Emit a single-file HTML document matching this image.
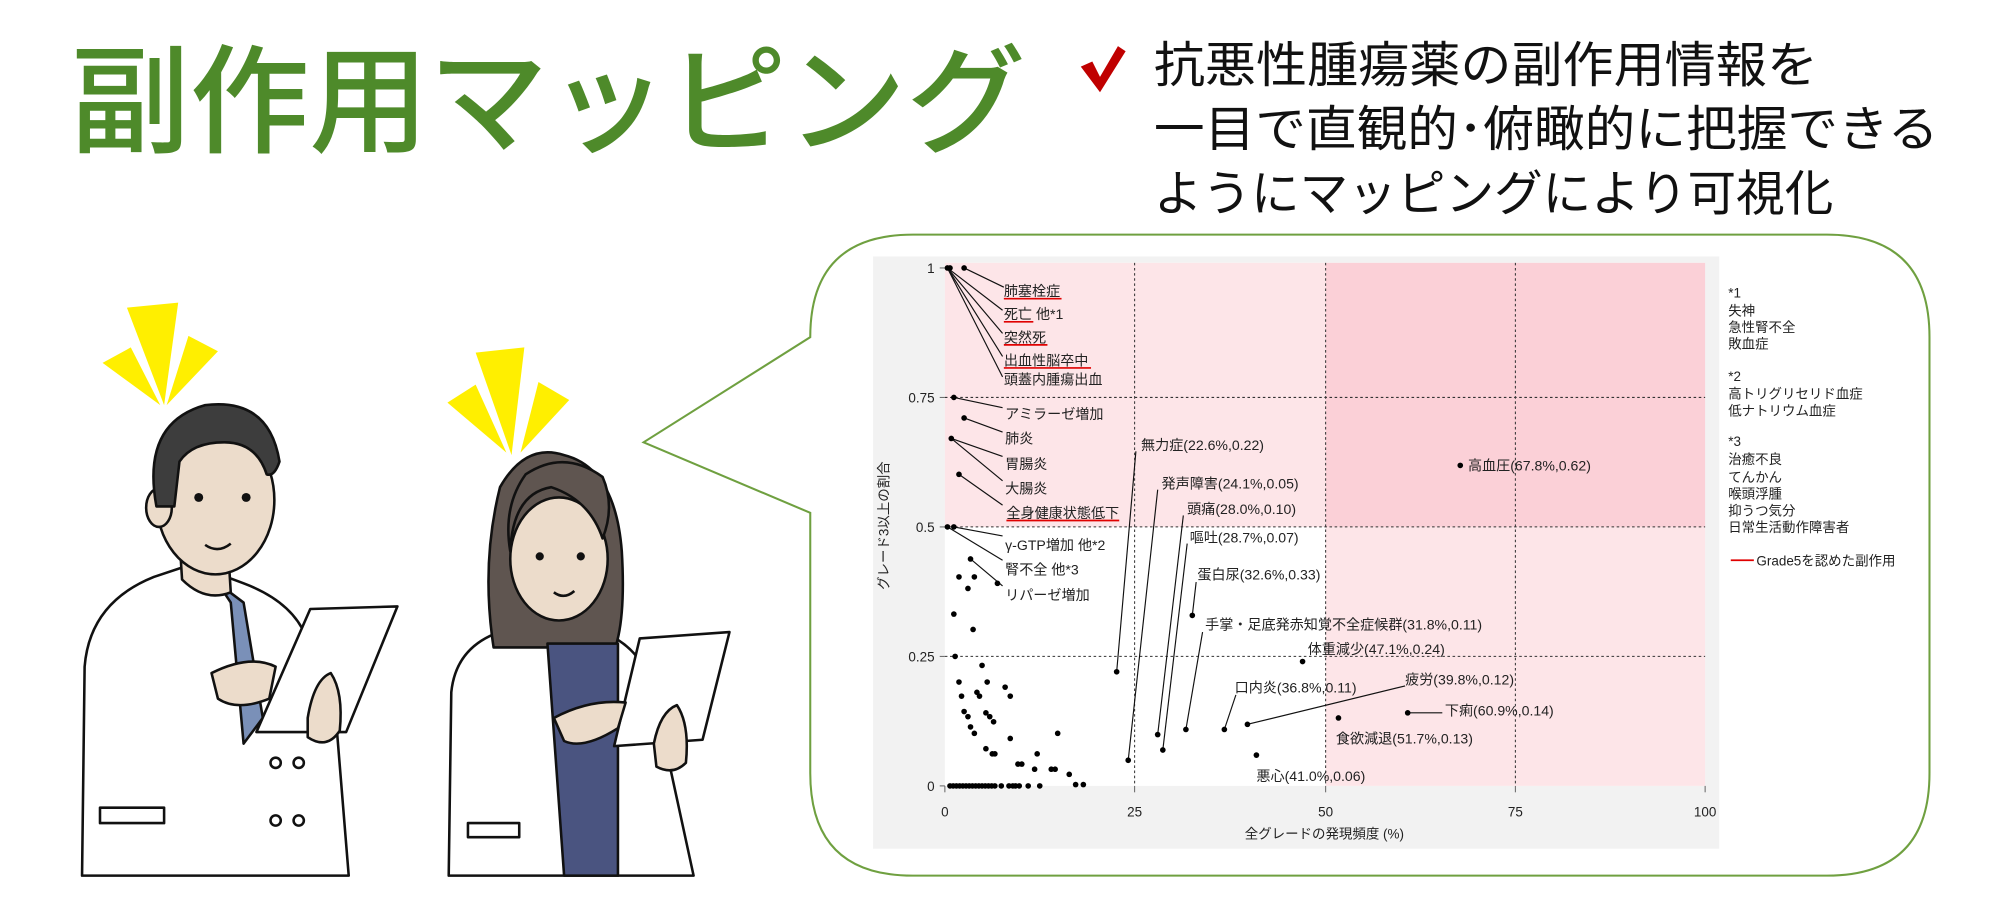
<!DOCTYPE html>
<html><head><meta charset="utf-8"><style>
html,body{margin:0;padding:0;background:#fff;}
svg{display:block;}
text{font-family:"Liberation Sans","Noto Sans CJK JP",sans-serif;}
.s{font-size:10.5px;fill:#222;}
.t{font-size:11px;fill:#222;}
</style></head><body>
<svg width="2000" height="900" viewBox="0 0 1560 702" preserveAspectRatio="none" xmlns="http://www.w3.org/2000/svg">
<rect width="1560" height="702" fill="#fff"/>
<!-- Title -->
<text x="55" y="112" font-size="92" font-weight="500" fill="#4e8a2a" textLength="745" lengthAdjust="spacingAndGlyphs">副作用マッピング</text>
<path d="M843 52 L852 48 L858 60 L872 36 L878 40 L858 72 Z" fill="#c00000"/>
<text x="900" y="64" font-size="38" fill="#111" textLength="518" lengthAdjust="spacingAndGlyphs">抗悪性腫瘍薬の副作用情報を</text>
<text x="900" y="114" font-size="38" fill="#111" textLength="612" lengthAdjust="spacingAndGlyphs">一目で直観的･俯瞰的に把握できる</text>
<text x="900" y="164" font-size="38" fill="#111" textLength="530" lengthAdjust="spacingAndGlyphs">ようにマッピングにより可視化</text>

<!-- Bubble -->
<path d="M712 183 L1425 183 Q1505 183 1505 263 L1505 603 Q1505 683 1425 683 L712 683 Q632 683 632 603 L632 400 L502 345 L632 263 Q632 183 712 183 Z" fill="#fff" stroke="#6fa040" stroke-width="1.6"/>

<!-- chart bg -->
<rect x="681" y="200" width="660" height="462" fill="#f2f2f2"/>
<rect x="737" y="205" width="593" height="408" fill="#fff"/>
<rect x="737" y="205" width="297" height="206" fill="#fde5e8"/>
<rect x="1034" y="205" width="296" height="206" fill="#fbd0d7"/>
<rect x="1034" y="411" width="296" height="202" fill="#fde5e8"/>
<g stroke="#333" stroke-width="0.8" stroke-dasharray="2,2" fill="none">
<line x1="885" y1="205" x2="885" y2="613"/><line x1="1034" y1="205" x2="1034" y2="613"/><line x1="1182" y1="205" x2="1182" y2="613"/>
<line x1="737" y1="310" x2="1330" y2="310"/><line x1="737" y1="411" x2="1330" y2="411"/><line x1="737" y1="512" x2="1330" y2="512"/>
</g>
<g stroke="#666" stroke-width="0.8">
<line x1="733" y1="209" x2="737" y2="209"/><line x1="733" y1="310" x2="737" y2="310"/><line x1="733" y1="411" x2="737" y2="411"/><line x1="733" y1="512" x2="737" y2="512"/><line x1="733" y1="613" x2="737" y2="613"/>
<line x1="737" y1="613" x2="737" y2="618"/><line x1="885" y1="613" x2="885" y2="618"/><line x1="1034" y1="613" x2="1034" y2="618"/><line x1="1182" y1="613" x2="1182" y2="618"/><line x1="1330" y1="613" x2="1330" y2="618"/>
</g>
<g class="s" text-anchor="end">
<text x="729" y="213" class="s">1</text><text x="729" y="314" class="s">0.75</text><text x="729" y="415" class="s">0.5</text><text x="729" y="516" class="s">0.25</text><text x="729" y="617" class="s">0</text>
</g>
<g text-anchor="middle">
<text x="737" y="637" class="s">0</text><text x="885" y="637" class="s">25</text><text x="1034" y="637" class="s">50</text><text x="1182" y="637" class="s">75</text><text x="1330" y="637" class="s">100</text>
<text x="1033" y="654" class="s">全グレードの発現頻度 (%)</text>
<text x="0" y="0" class="s" transform="translate(693,410) rotate(-90)">グレード3以上の割合</text>
</g>

<!-- leader lines -->
<g stroke="#111" stroke-width="0.9" fill="none">
<line x1="752" y1="209" x2="783" y2="224"/>
<line x1="739" y1="209" x2="782" y2="242"/>
<line x1="739" y1="209" x2="782" y2="260"/>
<line x1="739" y1="209" x2="782" y2="278"/>
<line x1="739" y1="209" x2="782" y2="294"/>
<line x1="744" y1="310" x2="782" y2="318"/>
<line x1="752" y1="326" x2="782" y2="337"/>
<line x1="742" y1="342" x2="782" y2="356"/>
<line x1="742" y1="342" x2="782" y2="375"/>
<line x1="748" y1="370" x2="782" y2="394"/>
<line x1="744" y1="411" x2="782" y2="418"/>
<line x1="739" y1="411" x2="782" y2="437"/>
<line x1="757" y1="436" x2="782" y2="457"/>
<line x1="871" y1="524" x2="886" y2="352"/>
<line x1="880" y1="593" x2="903" y2="382"/>
<line x1="903" y1="573" x2="923" y2="402"/>
<line x1="907" y1="585" x2="926" y2="424"/>
<line x1="930" y1="480" x2="933" y2="454"/>
<line x1="925" y1="569" x2="938" y2="493"/>
<line x1="955" y1="569" x2="964" y2="542"/>
<line x1="973" y1="565" x2="1096" y2="535"/>
<line x1="1098" y1="556" x2="1125" y2="556"/>
</g>
<!-- red underlines -->
<g stroke="#e00000" stroke-width="1.3">
<line x1="783" y1="233" x2="828" y2="233"/>
<line x1="783" y1="251" x2="806" y2="251"/>
<line x1="783" y1="269" x2="817" y2="269"/>
<line x1="783" y1="287" x2="851" y2="287"/>
<line x1="785" y1="406" x2="873" y2="406"/>
<line x1="1350" y1="437" x2="1368" y2="437"/>
</g>
<!-- labels -->
<g class="t">
<text x="783" y="231" class="t">肺塞栓症</text>
<text x="783" y="249" class="t">死亡 他*1</text>
<text x="783" y="267" class="t">突然死</text>
<text x="783" y="285" class="t">出血性脳卒中</text>
<text x="783" y="300" class="t">頭蓋内腫瘍出血</text>
<text x="784" y="327" class="t">アミラーゼ増加</text>
<text x="784" y="346" class="t">肺炎</text>
<text x="784" y="366" class="t">胃腸炎</text>
<text x="784" y="385" class="t">大腸炎</text>
<text x="785" y="404" class="t">全身健康状態低下</text>
<text x="784" y="429" class="t">γ-GTP増加 他*2</text>
<text x="784" y="448" class="t">腎不全 他*3</text>
<text x="784" y="468" class="t">リパーゼ増加</text>
<text x="890" y="351" class="t">無力症(22.6%,0.22)</text>
<text x="906" y="381" class="t">発声障害(24.1%,0.05)</text>
<text x="926" y="401" class="t">頭痛(28.0%,0.10)</text>
<text x="928" y="423" class="t">嘔吐(28.7%,0.07)</text>
<text x="934" y="452" class="t">蛋白尿(32.6%,0.33)</text>
<text x="940" y="491" class="t">手掌・足底発赤知覚不全症候群(31.8%,0.11)</text>
<text x="1020" y="510" class="t">体重減少(47.1%,0.24)</text>
<text x="963" y="540" class="t">口内炎(36.8%,0.11)</text>
<text x="1096" y="534" class="t">疲労(39.8%,0.12)</text>
<text x="1127" y="558" class="t">下痢(60.9%,0.14)</text>
<text x="1042" y="580" class="t">食欲減退(51.7%,0.13)</text>
<text x="980" y="609" class="t">悪心(41.0%,0.06)</text>
<text x="1145" y="367" class="t">高血圧(67.8%,0.62)</text>
</g>
<!-- legend -->
<g class="s">
<text x="1348" y="232" class="s">*1</text><text x="1348" y="246" class="s">失神</text><text x="1348" y="259" class="s">急性腎不全</text><text x="1348" y="272" class="s">敗血症</text>
<text x="1348" y="297" class="s">*2</text><text x="1348" y="311" class="s">高トリグリセリド血症</text><text x="1348" y="324" class="s">低ナトリウム血症</text>
<text x="1348" y="348" class="s">*3</text><text x="1348" y="362" class="s">治癒不良</text><text x="1348" y="376" class="s">てんかん</text><text x="1348" y="389" class="s">喉頭浮腫</text><text x="1348" y="402" class="s">抑うつ気分</text><text x="1348" y="415" class="s">日常生活動作障害者</text>
<text x="1370" y="441" class="s">Grade5を認めた副作用</text>
</g>
<!-- dots -->
<g fill="#000">
<circle cx="739" cy="209" r="2.2"/><circle cx="741" cy="209" r="2.2"/><circle cx="752" cy="209" r="2.2"/>
<circle cx="744" cy="310" r="2.2"/><circle cx="752" cy="326" r="2.2"/><circle cx="742" cy="342" r="2.2"/><circle cx="748" cy="370" r="2.2"/>
<circle cx="739" cy="411" r="2.2"/><circle cx="744" cy="411" r="2.2"/><circle cx="757" cy="436" r="2.2"/>
<circle cx="871" cy="524" r="2.2"/><circle cx="880" cy="593" r="2.2"/><circle cx="903" cy="573" r="2.2"/><circle cx="907" cy="585" r="2.2"/>
<circle cx="930" cy="480" r="2.2"/><circle cx="925" cy="569" r="2.2"/><circle cx="1016" cy="516" r="2.2"/><circle cx="955" cy="569" r="2.2"/>
<circle cx="973" cy="565" r="2.2"/><circle cx="1098" cy="556" r="2.2"/><circle cx="1044" cy="560" r="2.2"/><circle cx="980" cy="589" r="2.2"/><circle cx="1139" cy="363" r="2.2"/>
<circle cx="748" cy="450" r="2.2"/><circle cx="755" cy="459" r="2.2"/><circle cx="760" cy="450" r="2.2"/><circle cx="778" cy="455" r="2.2"/>
<circle cx="744" cy="479" r="2.2"/><circle cx="759" cy="491" r="2.2"/><circle cx="745" cy="512" r="2.2"/><circle cx="766" cy="519" r="2.2"/>
<circle cx="748" cy="532" r="2.2"/><circle cx="770" cy="532" r="2.2"/><circle cx="750" cy="543" r="2.2"/><circle cx="762" cy="540" r="2.2"/>
<circle cx="764" cy="543" r="2.2"/><circle cx="784" cy="536" r="2.2"/><circle cx="788" cy="543" r="2.2"/><circle cx="752" cy="555" r="2.2"/>
<circle cx="755" cy="559" r="2.2"/><circle cx="769" cy="556" r="2.2"/><circle cx="772" cy="559" r="2.2"/><circle cx="757" cy="567" r="2.2"/>
<circle cx="760" cy="572" r="2.2"/><circle cx="775" cy="563" r="2.2"/><circle cx="769" cy="584" r="2.2"/><circle cx="774" cy="588" r="2.2"/>
<circle cx="776" cy="588" r="2.2"/><circle cx="788" cy="576" r="2.2"/><circle cx="825" cy="572" r="2.2"/><circle cx="794" cy="596" r="2.2"/>
<circle cx="797" cy="596" r="2.2"/><circle cx="809" cy="588" r="2.2"/><circle cx="807" cy="600" r="2.2"/><circle cx="820" cy="600" r="2.2"/>
<circle cx="823" cy="600" r="2.2"/><circle cx="834" cy="604" r="2.2"/><circle cx="839" cy="612" r="2.2"/><circle cx="845" cy="612" r="2.2"/>
<circle cx="741" cy="613" r="2.2"/><circle cx="743.5" cy="613" r="2.2"/><circle cx="746" cy="613" r="2.2"/><circle cx="748.5" cy="613" r="2.2"/>
<circle cx="751" cy="613" r="2.2"/><circle cx="753.5" cy="613" r="2.2"/><circle cx="756" cy="613" r="2.2"/><circle cx="758.5" cy="613" r="2.2"/>
<circle cx="761" cy="613" r="2.2"/><circle cx="763.5" cy="613" r="2.2"/><circle cx="766" cy="613" r="2.2"/><circle cx="768.5" cy="613" r="2.2"/>
<circle cx="771" cy="613" r="2.2"/><circle cx="773.5" cy="613" r="2.2"/><circle cx="776" cy="613" r="2.2"/><circle cx="781" cy="613" r="2.2"/>
<circle cx="787" cy="613" r="2.2"/><circle cx="790" cy="613" r="2.2"/><circle cx="792" cy="613" r="2.2"/><circle cx="795" cy="613" r="2.2"/>
<circle cx="802" cy="613" r="2.2"/><circle cx="811" cy="613" r="2.2"/>
</g>

<!-- Man -->
<g stroke="#111" stroke-width="2" stroke-linejoin="round">
<polygon points="99,240 139,236 128,316" fill="#ffef00" stroke="none"/>
<polygon points="80,283 102,271 125,316" fill="#ffef00" stroke="none"/>
<polygon points="147,262 170,274 130,316" fill="#ffef00" stroke="none"/>
<path d="M64 683 L66 520 Q70 470 120 450 L150 440 L190 455 Q230 470 240 500 L262 560 L272 683 Z" fill="#fff"/>
<path d="M170 455 L190 470 L205 560 L190 580 L180 470 Z" fill="#7a90b8"/>
<path d="M140 420 L142 452 Q160 470 180 462 L178 430 Z" fill="#ecdccb"/>
<ellipse cx="168" cy="390" rx="46" ry="58" fill="#ecdccb"/>
<ellipse cx="124" cy="396" rx="10" ry="15" fill="#ecdccb"/>
<path d="M122 395 Q110 330 160 316 Q210 310 218 360 Q214 372 208 370 Q200 345 175 345 Q150 345 140 360 L136 395 Z" fill="#3d3d3d"/>
<circle cx="155" cy="388" r="3.5" fill="#111" stroke="none"/><circle cx="192" cy="388" r="3.5" fill="#111" stroke="none"/>
<path d="M160 425 Q170 432 180 424" fill="none"/>
<polygon points="242,475 310,473 270,571 200,571" fill="#fff"/>
<path d="M165 525 Q195 510 215 520 L210 545 Q185 555 170 545 Z" fill="#ecdccb"/>
<path d="M240 560 Q245 530 258 525 Q268 540 265 570 Q255 585 240 575 Z" fill="#ecdccb"/>
<rect x="78" y="630" width="50" height="12" fill="#fff"/>
<circle cx="215" cy="595" r="4" fill="#fff"/><circle cx="233" cy="595" r="4" fill="#fff"/><circle cx="215" cy="640" r="4" fill="#fff"/><circle cx="233" cy="640" r="4" fill="#fff"/>
</g>
<!-- Woman -->
<g stroke="#111" stroke-width="2" stroke-linejoin="round">
<polygon points="371,275 409,271 399,355" fill="#ffef00" stroke="none"/>
<polygon points="349,314 371,300 395,353" fill="#ffef00" stroke="none"/>
<polygon points="420,298 444,312 406,353" fill="#ffef00" stroke="none"/>
<path d="M350 683 L352 540 Q356 500 400 490 L460 490 Q500 500 510 540 L541 683 Z" fill="#fff"/>
<path d="M385 505 Q375 440 390 380 Q410 345 440 355 Q480 365 485 430 Q488 480 480 505 Z" fill="#5f5550"/>
<path d="M427 502 L482 502 L482 683 L440 683 Z" fill="#4a5480"/>
<ellipse cx="436" cy="436" rx="38" ry="48" fill="#ecdccb"/>
<path d="M398 430 Q400 385 430 380 Q460 390 470 420 Q480 395 470 372 Q440 350 410 370 Q392 395 398 430 Z" fill="#5f5550"/>
<circle cx="421" cy="434" r="3.2" fill="#111" stroke="none"/><circle cx="453" cy="434" r="3.2" fill="#111" stroke="none"/>
<path d="M432 462 Q440 468 448 461" fill="none"/>
<polygon points="499,498 569,493 548,577 479,582" fill="#fff"/>
<path d="M432 560 Q460 545 488 548 L482 568 Q455 585 440 578 Z" fill="#ecdccb"/>
<path d="M510 580 Q515 555 528 550 Q538 565 535 595 Q525 605 512 598 Z" fill="#ecdccb"/>
<rect x="365" y="642" width="40" height="11" fill="#fff"/>
</g>
</svg>
</body></html>
